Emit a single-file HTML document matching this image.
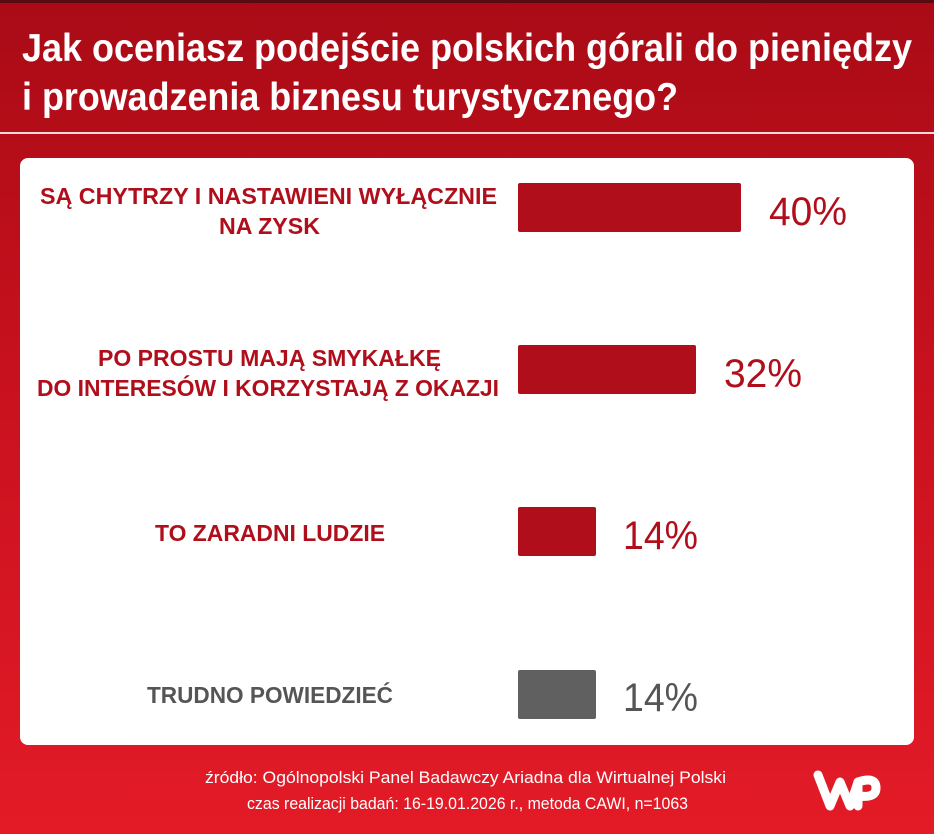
<!DOCTYPE html>
<html><head><meta charset="utf-8"><style>
html,body{margin:0;padding:0}
body{width:934px;height:834px;overflow:hidden;background:linear-gradient(#a90b16,#c8111e 45%,#e31b27);font-family:"Liberation Sans",sans-serif}
svg{display:block}
</style></head><body>
<svg width="934" height="834" viewBox="0 0 934 834" xmlns="http://www.w3.org/2000/svg" font-family="Liberation Sans, sans-serif">
<rect x="0" y="0" width="934" height="3" fill="#5a0a10"/>
<g fill="#fff" font-weight="bold" font-size="39">
<text x="22" y="61" textLength="890" lengthAdjust="spacingAndGlyphs">Jak oceniasz podejście polskich górali do pieniędzy</text>
<text x="22" y="110" textLength="656" lengthAdjust="spacingAndGlyphs">i prowadzenia biznesu turystycznego?</text>
</g>
<rect x="0" y="132" width="934" height="2" fill="#f2d6d8"/>
<rect x="20" y="158" width="894" height="587" rx="8" fill="#fff"/>
<g font-weight="bold" font-size="23" fill="#b10e1c">
<text x="40" y="204" textLength="457" lengthAdjust="spacingAndGlyphs">SĄ CHYTRZY I NASTAWIENI WYŁĄCZNIE</text>
<text x="219" y="234" textLength="101" lengthAdjust="spacingAndGlyphs">NA ZYSK</text>
<text x="98" y="366" textLength="343" lengthAdjust="spacingAndGlyphs">PO PROSTU MAJĄ SMYKAŁKĘ</text>
<text x="37" y="396" textLength="462" lengthAdjust="spacingAndGlyphs">DO INTERESÓW I KORZYSTAJĄ Z OKAZJI</text>
<text x="155" y="541" textLength="230" lengthAdjust="spacingAndGlyphs">TO ZARADNI LUDZIE</text>
<text x="147" y="703" textLength="246" lengthAdjust="spacingAndGlyphs" fill="#555">TRUDNO POWIEDZIEĆ</text>
</g>
<rect x="518" y="183" width="223" height="49" rx="2" fill="#b10e1c"/>
<rect x="518" y="345" width="178" height="49" rx="2" fill="#b10e1c"/>
<rect x="518" y="507" width="78" height="49" rx="2" fill="#b10e1c"/>
<rect x="518" y="670" width="78" height="49" rx="2" fill="#606060"/>
<g font-size="40" fill="#b10e1c">
<text x="769" y="225" textLength="78" lengthAdjust="spacingAndGlyphs">40%</text>
<text x="724" y="387" textLength="78" lengthAdjust="spacingAndGlyphs">32%</text>
<text x="623" y="549" textLength="75" lengthAdjust="spacingAndGlyphs">14%</text>
<text x="623" y="711" textLength="75" lengthAdjust="spacingAndGlyphs" fill="#555">14%</text>
</g>
<g fill="#fff" font-size="17">
<text x="205" y="783" textLength="521" lengthAdjust="spacingAndGlyphs">źródło: Ogólnopolski Panel Badawczy Ariadna dla Wirtualnej Polski</text>
<text x="247" y="809" textLength="441" lengthAdjust="spacingAndGlyphs">czas realizacji badań: 16-19.01.2026 r., metoda CAWI, n=1063</text>
</g>
<g fill="none" stroke="#fff" stroke-width="9" stroke-linecap="round" stroke-linejoin="round">
<path d="M818 775 L830 806 L840 782 L850 806 L858 782"/>
<path d="M858 806 V782 Q876 776 876 788 Q876 798 860 796"/>
</g>
</svg>
</body></html>
